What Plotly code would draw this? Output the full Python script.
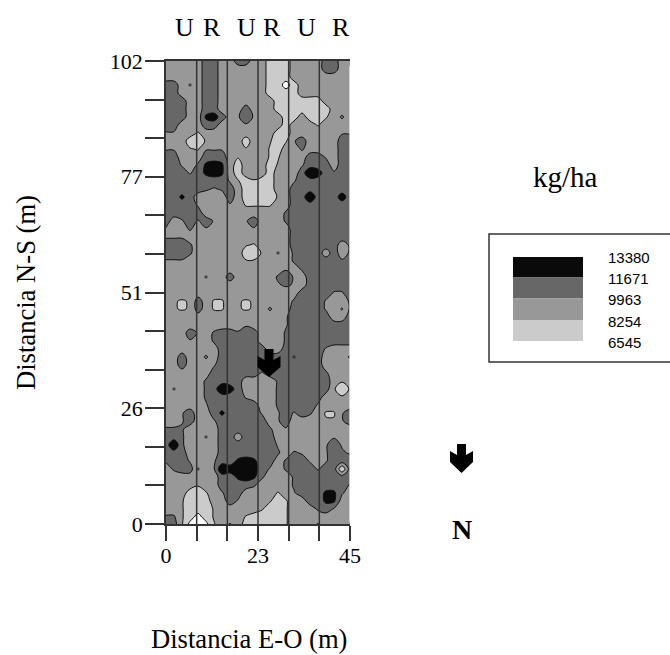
import numpy as np
import plotly.graph_objects as go

yield_rows = [
"222223322332211122223322","222223322222211122223322","222223322222211122222222",
"332a23322222211012222222","332223322222211112222222","333223322222221111112222",
"333223322232221111111222","33322c432f3f22211211a2b2","3322233222f22221222a2222",
"ff22a22222222211222222ff","22211g2222122g1af3222233","ff2gafff22g22a122b222233",
"332223332g222aa22233f233","33f2bc4c212221g22f333233","333f3c4c2122212223e43b33",
"33333333fg1a1122f3333333","33333bfb3211112233333333","33c32222321111g233e33343",
"3333f222f2aaaa2233333333","333332222222222b33333333","32f3f3f222f3222b33333333",
"f22b2f22222f222233333333","fff222222222222233333333","333b222222ga22223333332b",
"333b22222211g2a2b333232b","fff2222222gg2222b33333b3","222222222222222f2b333333",
"22222a22322222b3f2333333","22222222222222fbf2333333","222222222222222223333ff3",
"2gag32aa2gag2222b333f22b","2gag32aa2gag2b223333f2ab","222222222222222f33333223",
"2222222222f2222f33333333","2223f2b33b33222b33333333","222f22b33333222b33333333",
"22222223333332233333f222","22322b2333333333f333222b","223222f33333333333332222",
"222222333333f3333333b222","22222b33332222b3333332g2","2a222b3e432222b333333g1g",
"22222b3333f222b3333322g2","22222f33333322b3333f2222","22f3223c3333f2f3f3b2aaf3",
"22f322f3333332f32222ggf3","bbb2222333333b2f22222222","33b22a233233332222222f22",
"3eb22223333333f22222f3f2","33322223333333b2bf22f3bf","b33f22f33c4c332b33f2f333",
"2b33a2fe44e43f2b333f33h3","222222233c4cb222b3333333","2222g223333b2222b333333f",
"22211a2f332222a2f333ccb2","22g111223f222g1a2233cc22","22g111g22222g11a222b3f22",
"bbg101g222a1111a22222222","33g000a2b211111a222b2222",
]
class_values = {"0":5800,"h":6700,"1":7400,"a":8100,"g":8400,"2":9100,"f":9800,"b":10200,
                "3":10800,"c":12000,"4":12500,"e":13300}
legend_levels = [13380, 11671, 9963, 8254, 6545]
top_letters = ["U","R","U","R","U","R"]
x_ticks = [0, 7.5, 15, 22.5, 30, 37.5, 45]
x_labels = ["0","","","23","","","45"]
y_ticks = [102, 93.5, 85, 76.5, 68, 59.5, 51, 42.5, 34, 25.5, 17, 8.5, 0]
y_labels = ["102","","","77","","","51","","","26","","","0"]

assert all(len(r) == 24 for r in yield_rows) and len(yield_rows) == 59
z = [[class_values[c] for c in r] for r in yield_rows]
x = [i * 45 / 23 for i in range(24)]
y = [102 - j * 102 * 8 / 463 for j in range(59)]

L, R, T, B = 166, 350, 61, 524
W, H = 670, 655
def px(v): return (v - L) / (R - L)
def py(v): return (B - v) / (B - T)

greys = ["#ffffff", "#cbcbcb", "#989898", "#676767", "#0a0a0a"]
scale = [[i / 4, g] for i, g in enumerate(greys)]

fig = go.Figure(go.Contour(
    x=x, y=y[::-1], z=z[::-1], colorscale=scale, showscale=False,
    autocontour=False, hoverinfo="skip",
    contours=dict(coloring="fill", start=6545, end=11671, size=(11671 - 6545) / 3),
    line=dict(color="#111111", width=1, smoothing=1),
))

shapes = []
for v in x_ticks[1:-1]:
    shapes.append(dict(type="line", xref="x", yref="paper", x0=v, x1=v, y0=0, y1=1,
                       line=dict(color="#333333", width=1.5)))
shapes.append(dict(type="line", xref="x", yref="paper", x0=45, x1=45, y0=0.003, y1=0.99,
                   line=dict(color="#e8e8e8", width=1.5)))

def arrow(cx, top, stem_h, wing, stem, head, total):
    pts = [(cx - stem, top), (cx + stem, top), (cx + stem, top + stem_h), (cx + wing, top + stem_h - 4),
           (cx + wing, top + head), (cx, top + total), (cx - wing, top + head),
           (cx - wing, top + stem_h - 4), (cx - stem, top + stem_h)]
    d = "M " + " L ".join(f"{px(a):.4f},{py(b):.4f}" for a, b in pts) + " Z"
    return dict(type="path", xref="paper", yref="paper", path=d, fillcolor="#000000", line=dict(width=0))
shapes.append(arrow(269, 349, 11, 11.5, 4.5, 18, 28))
shapes.append(arrow(461.5, 444, 11, 11.5, 4.5, 18, 29))

# legend box and swatches
shapes.append(dict(type="rect", xref="paper", yref="paper", x0=px(489), x1=px(690), y0=py(362), y1=py(234),
                   line=dict(color="#333333", width=1.5), fillcolor="white"))
edges = [257, 277.5, 298.5, 320, 341]
for i in range(4):
    shapes.append(dict(type="rect", xref="paper", yref="paper", x0=px(513), x1=px(583),
                       y0=py(edges[i + 1]), y1=py(edges[i]), line=dict(width=0), fillcolor=greys[4 - i]))

serif = "Liberation Serif"
ann = []
def text(s, cx, cy, size, family=serif, anchor="center", angle=0, bold=False):
    ann.append(dict(text=f"<b>{s}</b>" if bold else s, xref="paper", yref="paper", x=px(cx), y=py(cy),
                    xanchor=anchor, yanchor="middle", showarrow=False, textangle=angle,
                    font=dict(family=family, size=size, color="#000000")))
for s, cx in zip(top_letters, [184, 211.5, 246.5, 272, 306.5, 340.5]):
    text(s, cx, 28, 26)
text("kg/ha", 565.5, 177, 29)
text("N", 462, 529, 28, bold=True)
text("Distancia E-O (m)", 248.5, 639, 26.6)
text("Distancia N-S (m)", 26, 293, 26.6, angle=-90)
for v, cy in zip(legend_levels, [257, 278, 299, 321, 342]):
    text(str(v), 606, cy, 15, family="Liberation Sans", anchor="left")

fig.update_layout(
    width=W, height=H, margin=dict(l=L, r=W - R, t=T, b=H - B, pad=0),
    paper_bgcolor="white", plot_bgcolor="white", showlegend=False,
    shapes=shapes, annotations=ann,
    font=dict(family=serif, size=22, color="#000000"),
    xaxis=dict(range=[0, 45], tickmode="array", tickvals=x_ticks, ticktext=x_labels, ticks="outside",
               ticklen=15, tickwidth=1.5, tickcolor="#333333", showgrid=False, zeroline=False,
               showline=True, linecolor="#333333", linewidth=1.5, mirror=True, layer="above traces",
               ticklabelstandoff=-4, fixedrange=True),
    yaxis=dict(range=[0, 102], tickmode="array", tickvals=y_ticks, ticktext=y_labels, ticks="outside",
               ticklen=19, tickwidth=1.5, tickcolor="#333333", showgrid=False, zeroline=False,
               showline=True, linecolor="#333333", linewidth=1.5, layer="above traces",
               ticklabelstandoff=-2, fixedrange=True),
)
fig.write_html("out.html", config=dict(displayModeBar=False),
               post_script="document.body.style.margin='0';document.documentElement.style.overflow='hidden';")
